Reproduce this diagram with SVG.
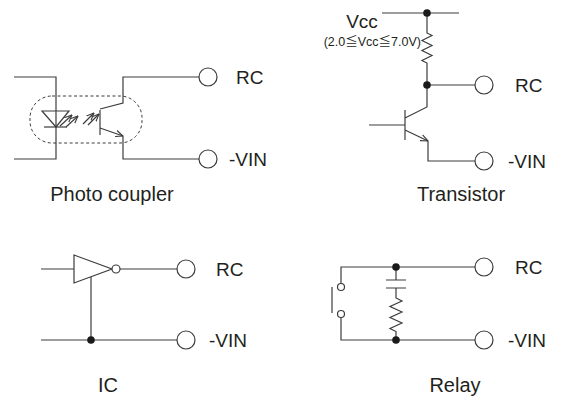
<svg xmlns="http://www.w3.org/2000/svg" width="563" height="399" viewBox="0 0 563 399">
<defs>
<style>
.w{fill:none;stroke:#3c3c3c;stroke-width:1.2;stroke-linejoin:miter}
.t{fill:#ffffff;stroke:#3c3c3c;stroke-width:1.2}
.d{fill:#1a1a1a;stroke:none}
.lb{font-family:"Liberation Sans",Arial,sans-serif;font-size:19px;fill:#231f20}
.cap{font-family:"Liberation Sans",Arial,sans-serif;font-size:20px;fill:#231f20}
.sm{font-family:"Liberation Sans",Arial,sans-serif;font-size:12.5px;fill:#231f20}
.cjk{font-family:"Noto Sans CJK JP","Noto Sans CJK SC",sans-serif}
.dash{fill:none;stroke:#3c3c3c;stroke-width:1;stroke-dasharray:3,2.5}
</style>
<marker id="ah" viewBox="0 0 8 8" refX="7.5" refY="4" markerWidth="8" markerHeight="8" markerUnits="userSpaceOnUse" orient="auto">
<path d="M0,0.8 L7.5,4 L0,7.2" fill="none" stroke="#3c3c3c" stroke-width="1.1"/>
</marker>
</defs>
<rect width="563" height="399" fill="#ffffff"/>

<g id="connectors">
<path class="w" d="M14,77 H56 V159 H14"/>
<path class="w" d="M100,109 L123,103 V77 H199"/>
<path class="w" d="M123,136 V159 H199"/>
<path class="w" d="M382,13 H459"/>
<path class="w" d="M427,13 V33 L432,35.5 L422,40.5 L432,45.5 L422,50.5 L432,55.5 L422,60.5 L427,63 V107 L405,118"/>
<path class="w" d="M427,85 H475"/>
<path class="w" d="M369,125 H405"/>
<path class="w" d="M428,141 V161 H475"/>
<path class="w" d="M41,269 H74"/>
<path class="w" d="M120,269 H177"/>
<path class="w" d="M91,277 V340"/>
<path class="w" d="M41,340 H177"/>
<path class="w" d="M341,283.5 V267 H475"/>
<path class="w" d="M341,317.5 V340 H475"/>
<path class="w" d="M396,267 V280"/>
<path class="w" d="M396,288 V298 L402,301 L390,306.5 L402,312 L390,317.5 L402,323 L390,328.5 L396,331.5 V340"/>
</g>

<g id="photo-coupler">
<rect class="dash" x="30" y="96" width="112" height="47" rx="22" ry="22"/>
<path class="w" d="M42,111 H69 L56,127 Z"/>
<path class="w" d="M44,127 H67"/>
<path class="w" d="M60,126 L72,115" marker-end="url(#ah)"/>
<path class="w" d="M66,127 L78,116" marker-end="url(#ah)"/>
<path class="w" d="M83,124 L94,113" marker-end="url(#ah)"/>
<path class="w" d="M88,125 L99,114" marker-end="url(#ah)"/>
<path class="w" d="M100,110 V135"/>
<path class="w" d="M100,128 L123,136" marker-end="url(#ah)"/>
<circle class="t" cx="208" cy="77" r="9"/>
<circle class="t" cx="208" cy="159" r="9"/>
<text class="lb" x="236" y="84">RC</text>
<text class="lb" x="229" y="166">-VIN</text>
<text class="cap" x="112" y="201" text-anchor="middle">Photo coupler</text>
</g>

<g id="transistor">
<circle class="d" cx="427" cy="13" r="3.8"/>
<circle class="d" cx="427" cy="85" r="3.8"/>
<path class="w" d="M405,110 V140"/>
<path class="w" d="M405,130 L428,141" marker-end="url(#ah)"/>
<circle class="t" cx="484" cy="85" r="9"/>
<circle class="t" cx="484" cy="161" r="9"/>
<text class="lb" x="515" y="92">RC</text>
<text class="lb" x="508" y="168">-VIN</text>
<text class="lb" x="362" y="28" text-anchor="middle">Vcc</text>
<text class="sm" x="421" y="46" text-anchor="end">(2.0<tspan class="cjk">≦</tspan>Vcc<tspan class="cjk">≦</tspan>7.0V)</text>
<text class="cap" x="461" y="201" text-anchor="middle">Transistor</text>
</g>

<g id="ic">
<path class="w" d="M74,255 V283 L112,269 Z"/>
<circle class="t" cx="116" cy="269" r="4"/>
<circle class="d" cx="91" cy="340" r="3.8"/>
<circle class="t" cx="186" cy="269" r="9"/>
<circle class="t" cx="186" cy="340" r="9"/>
<text class="lb" x="216" y="276">RC</text>
<text class="lb" x="209" y="347">-VIN</text>
<text class="cap" x="108" y="392" text-anchor="middle">IC</text>
</g>

<g id="relay">
<circle class="t" cx="341" cy="287" r="3.5"/>
<circle class="t" cx="341" cy="314" r="3.5"/>
<path class="w" d="M332,287 V313"/>
<path class="w" d="M386,280 H406 M386,288 H406"/>
<circle class="d" cx="396" cy="267" r="3.8"/>
<circle class="d" cx="396" cy="340" r="3.8"/>
<circle class="t" cx="484" cy="267" r="9"/>
<circle class="t" cx="484" cy="340" r="9"/>
<text class="lb" x="515" y="274">RC</text>
<text class="lb" x="508" y="347">-VIN</text>
<text class="cap" x="455" y="392" text-anchor="middle">Relay</text>
</g>
</svg>
